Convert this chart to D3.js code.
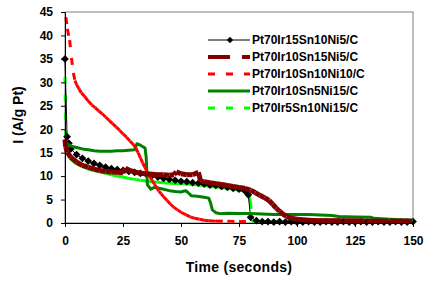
<!DOCTYPE html>
<html>
<head>
<meta charset="utf-8">
<script src="https://cdn.jsdelivr.net/npm/d3@7"></script>
<style>
  body { margin: 0; background: #fff; }
  text { font-family: 'Liberation Sans', Arial, sans-serif; font-weight: bold; }
</style>
</head>
<body>
<script>
// tick values
const xTicks = [0, 25, 50, 75, 100, 125, 150];
const yTicks = [0, 5, 10, 15, 20, 25, 30, 35, 40, 45];

// Pt70Ir15Sn10Ni5/C
const blackT = [0, 0.9, 1.7, 2.5, 5, 7.5, 10, 12.5, 15, 17.5, 20, 22.5, 25, 27.5, 30, 32.5, 35, 37.5, 40, 42.5, 45, 47.5, 50, 52.5, 55, 57.5, 60, 62.5, 65, 67.5, 70, 72.5, 75, 77.5, 79, 80, 82.5, 85, 87.5, 90, 92.5, 95, 97.5, 100, 102.5, 105, 107.5, 110, 112.5, 115, 117.5, 120, 122.5, 125, 127.5, 130, 132.5, 135, 137.5, 140, 142.5, 145, 147.5, 150];
const blackI = [35, 18.4, 17, 15.8, 14.6, 13.8, 13.2, 12.7, 12.3, 11.9, 11.6, 11.4, 11.2, 11.0, 10.8, 10.6, 10.4, 10.1, 9.8, 9.5, 9.3, 9.1, 8.9, 8.8, 8.6, 8.5, 8.3, 8.1, 8.0, 7.8, 7.6, 7.4, 7.2, 6.9, 6.0, 1.2, 0.5, 0.3, 0.3, 0.2, 0.3, 0.2, 0.3, 0.2, 0.2, 0.3, 0.2, 0.2, 0.3, 0.2, 0.2, 0.3, 0.2, 0.2, 0.3, 0.2, 0.2, 0.3, 0.2, 0.2, 0.3, 0.2, 0.2, 0.3];

// Pt70Ir10Sn15Ni5/C
const darkRedT = [0, 0.3, 1, 2.5, 5, 7.5, 10, 12.5, 15, 17.5, 20, 22.5, 25, 26, 27.5, 30, 32.5, 35, 37.5, 40, 42.5, 45, 47, 48, 50, 52.5, 55, 57.5, 58.5, 60, 62.5, 65, 67.5, 70, 72.5, 75, 77.5, 80, 82, 84, 86, 88, 89.5, 91, 92.5, 94, 95.5, 97.5, 100, 105, 110, 120, 130, 140, 150];
const darkRedI = [17.8, 16.2, 15.1, 14.0, 13.0, 12.3, 11.9, 11.5, 11.2, 11.0, 10.9, 10.8, 10.7, 11.7, 11.3, 10.9, 10.6, 10.5, 10.4, 10.3, 10.3, 10.2, 10.3, 10.9, 10.5, 10.3, 10.3, 10.8, 8.9, 8.8, 8.6, 8.4, 8.2, 8.0, 7.8, 7.6, 7.4, 7.0, 6.5, 5.9, 5.4, 4.8, 4.0, 3.2, 2.5, 1.9, 1.4, 1.0, 0.8, 0.6, 0.5, 0.5, 0.4, 0.4, 0.4];

// Pt70Ir10Sn10Ni10/C
const redT = [0.4, 1.0, 2.0, 2.8, 3.6, 4.3, 5.0, 6.0, 7.0, 8.5, 10, 11.5, 13, 14.5, 16, 17.5, 19, 20.5, 22, 23.5, 25, 26.5, 28, 29.5, 30.5, 31.5, 32.5, 33.5, 34.5, 35.5, 36.5, 37.5, 38.5, 39.5, 40.5, 41.5, 42.5, 44, 45.5, 47, 48.5, 50, 52, 54, 56, 58, 60, 62, 65, 70, 75, 78];
const redI = [43.9, 41.4, 39.0, 35.2, 32.0, 30.4, 29.5, 28.6, 27.8, 27.0, 26.0, 25.2, 24.6, 23.9, 23.3, 22.6, 21.9, 21.2, 20.5, 19.8, 19.0, 18.3, 17.5, 16.7, 16.0, 15.0, 13.9, 12.8, 11.8, 10.8, 9.9, 9.1, 8.3, 7.5, 6.8, 6.2, 5.6, 4.8, 4.0, 3.3, 2.8, 2.3, 1.8, 1.3, 1.0, 0.8, 0.6, 0.5, 0.4, 0.4, 0.3, 0.3];

// Pt70Ir10Sn5Ni15/C
const darkGreenT = [0, 1, 2.5, 5, 7.5, 10, 12.5, 15, 17.5, 20, 22.5, 25, 27.5, 30, 31, 32.5, 34.5, 35, 35.5, 37, 38.5, 40, 42.5, 45, 47.5, 50, 52, 53, 54.5, 57, 60, 62, 62.8, 63.5, 65, 67, 70, 75, 80, 85, 90, 95, 100, 105, 110, 115, 118, 125, 132, 133, 140, 150];
const darkGreenI = [17.2, 16.9, 16.4, 16.1, 15.8, 15.6, 15.4, 15.3, 15.3, 15.3, 15.4, 15.4, 15.5, 15.6, 16.9, 16.6, 16.0, 14.0, 8.2, 7.2, 7.6, 7.5, 7.2, 6.9, 6.7, 6.6, 6.9, 6.5, 5.8, 5.7, 5.5, 5.3, 4.2, 2.8, 2.2, 2.0, 2.1, 2.0, 2.0, 1.9, 1.8, 1.8, 1.8, 1.8, 1.7, 1.6, 1.4, 1.3, 1.2, 1.0, 0.8, 0.6];

// Pt70Ir5Sn10Ni15/C
const lightGreenT = [0, 0.3, 1, 2, 3.5, 5, 7.5, 10, 12.5, 15, 17.5, 20, 22.5, 25, 27.5, 30, 32.5, 35, 37.5, 40, 42.5, 45, 47.5, 50, 52.5, 55, 57.5, 60, 62.5, 65, 67.5, 70, 72.5, 75, 77.5, 79, 79.5, 80, 80.5, 85, 90, 95, 100, 105, 110, 115, 120, 125, 130, 135, 140, 145, 150];
const lightGreenI = [31.2, 17.5, 15.0, 13.9, 13.1, 12.6, 12.0, 11.5, 11.2, 10.9, 10.6, 10.3, 10.0, 9.8, 9.5, 9.3, 9.1, 8.95, 8.8, 8.7, 8.6, 8.5, 8.45, 8.4, 8.3, 8.2, 8.1, 8.0, 7.8, 7.7, 7.5, 7.4, 7.2, 7.0, 6.8, 6.4, 5.3, 4.5, 0.4, 0.3, 0.3, 0.3, 0.3, 0.3, 0.3, 0.3, 0.3, 0.3, 0.3, 0.3, 0.3, 0.3, 0.3];

let w = 432, h = 294;

let series = [
  { name: 'Pt70Ir5Sn10Ni15/C', t: lightGreenT, v: lightGreenI, color: '#00ff00', width: 3, dash: '7,11', leg: 4 },
  { name: 'Pt70Ir15Sn10Ni5/C', t: blackT, v: blackI, color: '#000000', width: 1, dash: null, marker: true, leg: 0 },
  { name: 'Pt70Ir10Sn5Ni15/C', t: darkGreenT, v: darkGreenI, color: '#008000', width: 3, dash: null, leg: 3 },
  { name: 'Pt70Ir10Sn10Ni10/C', t: redT, v: redI, color: '#ff0000', width: 3, dash: '7,11', leg: 2 },
  { name: 'Pt70Ir10Sn15Ni5/C', t: darkRedT, v: darkRedI, color: '#800000', width: 5, dash: '22,12', leg: 1 }
];

let xScale = d3.scaleLinear().domain([0, 150]).range([65, 413]);
let yScale = d3.scaleLinear().domain([0, 45]).range([223, 12]);

let svg = d3.select('body')
  .append('svg')
  .attr('width', w)
  .attr('height', h);

// plot frame
svg.append('rect')
  .attr('x', xScale(0))
  .attr('y', yScale(45))
  .attr('width', xScale(150) - xScale(0))
  .attr('height', yScale(0) - yScale(45))
  .attr('fill', 'none')
  .attr('stroke', '#808080')
  .attr('stroke-width', 1);

let line = d3.line().x(d => xScale(d[0])).y(d => yScale(d[1]));
// square diamond marker (square rotated 45deg)
let diamond = d3.symbol().type(d3.symbolSquare).size(30);
let legendDiamond = d3.symbol().type(d3.symbolSquare).size(20);

let plot = svg.append('g');

series.forEach(s => {
  let pts = s.t.map((t, i) => [t, s.v[i]]);
  if (s.dash) {
    // dashed series: dash pattern restarts on every segment
    plot.selectAll(null)
      .data(d3.pairs(pts))
      .enter()
      .append('path')
      .attr('d', d => line(d))
      .attr('fill', 'none')
      .attr('stroke', s.color)
      .attr('stroke-width', s.width)
      .attr('stroke-dasharray', s.dash);
  } else {
    plot.append('path')
      .attr('d', line(pts))
      .attr('fill', 'none')
      .attr('stroke', s.color)
      .attr('stroke-width', s.width)
      .attr('stroke-linejoin', 'round');
  }
  if (s.marker) {
    plot.selectAll(null)
      .data(pts)
      .enter()
      .append('path')
      .attr('d', diamond)
      .attr('transform', d => 'translate(' + xScale(d[0]) + ',' + yScale(d[1]) + ') rotate(45)')
      .attr('fill', s.color);
  }
});

// axes
let xAxis = svg.append('g')
  .attr('transform', 'translate(0,' + yScale(0) + ')')
  .call(d3.axisBottom(xScale).tickValues(xTicks).tickSize(4).tickSizeOuter(0).tickPadding(9));

let yAxis = svg.append('g')
  .attr('transform', 'translate(' + xScale(0) + ',0)')
  .call(d3.axisLeft(yScale).tickValues(yTicks).tickSize(4).tickSizeOuter(0).tickPadding(8));

[xAxis, yAxis].forEach(a => {
  a.selectAll('text')
    .attr('font-family', "'Liberation Sans', Arial, sans-serif")
    .attr('font-weight', 'bold')
    .attr('font-size', '12px')
    .attr('fill', '#000');
  a.selectAll('line').attr('stroke', '#000');
  a.select('.domain').attr('stroke', '#000');
});

// axis titles
svg.append('text')
  .text('Time (seconds)')
  .attr('x', 239)
  .attr('y', 272)
  .attr('text-anchor', 'middle')
  .attr('font-size', '14px')
  .attr('letter-spacing', '0.3px');

svg.append('text')
  .text('I (A/g Pt)')
  .attr('transform', 'translate(23,115) rotate(-90)')
  .attr('text-anchor', 'middle')
  .attr('font-size', '14px');

// legend
let legend = svg.append('g');
let legendY = d => 40 + d.leg * 17;

series.forEach(s => {
  let g = legend.append('g').attr('transform', 'translate(0,' + legendY(s) + ')');
  g.append('line')
    .attr('x1', 208)
    .attr('x2', 250)
    .attr('stroke', s.color)
    .attr('stroke-width', s.leg === 1 ? 4 : s.width)
    .attr('stroke-dasharray', s.dash);
  if (s.marker) {
    g.append('path')
      .attr('d', legendDiamond)
      .attr('transform', 'translate(230,0) rotate(45)')
      .attr('fill', s.color);
  }
  g.append('text')
    .text(s.name)
    .attr('x', 252)
    .attr('y', 4)
    .attr('font-size', '12px')
    .attr('fill', '#000');
});
</script>
</body>
</html>
